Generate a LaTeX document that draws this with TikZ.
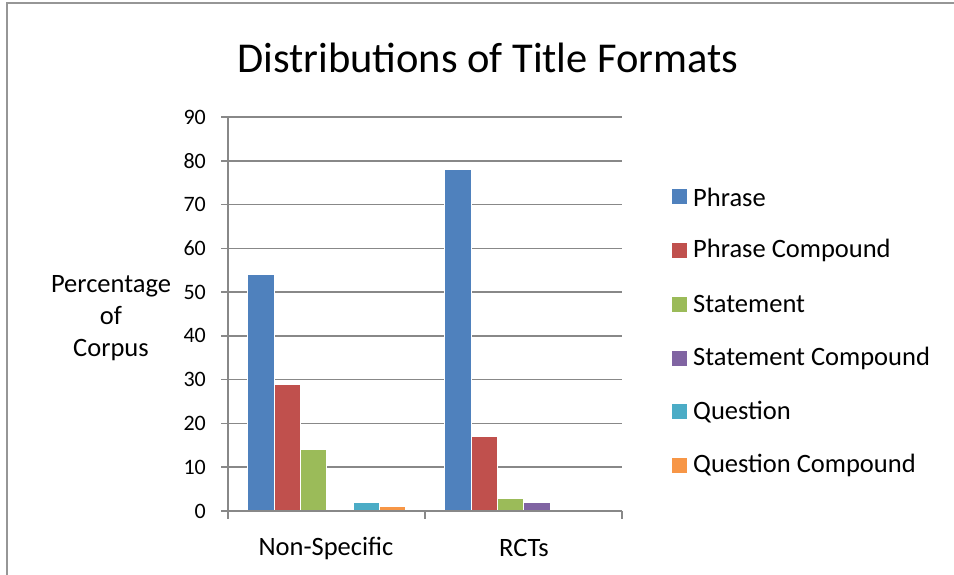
\documentclass[tikz,border=0pt]{standalone}
\usepackage{fontspec}
\setmainfont{Carlito}
\usepackage{tikz}
\definecolor{cPhrase}{RGB}{79,129,189}
\definecolor{cPhraseC}{RGB}{192,80,77}
\definecolor{cStat}{RGB}{155,187,89}
\definecolor{cStatC}{RGB}{128,100,162}
\definecolor{cQuest}{RGB}{75,172,198}
\definecolor{cQuestC}{RGB}{247,150,70}
\definecolor{gridgray}{RGB}{136,136,136}
\definecolor{framegray}{RGB}{150,150,150}

\begin{document}
\begin{tikzpicture}[x=1pt, y=-1pt,
    grid/.style = {draw=gridgray, line width=1.6pt},
    bar/.style  = {draw=white, line width=0.5pt},
    lab/.style  = {inner sep=0pt, font=\fontsize{26.5}{32}\selectfont},
    ticklab/.style = {inner sep=0pt, anchor=east, font=\fontsize{22}{26}\selectfont}]

    \useasboundingbox (0,0) rectangle (954,575);
    \draw[framegray, line width=2pt] (7,575) -- (7,3) -- (954,3); % outer frame

    \node[inner sep=0pt, font=\fontsize{42.5}{50}\selectfont] (title) at (488,58) {Distributions of Title Formats};

    %%%%%%%%%%%%%%%%%%% grid and ticks
    \def\ys{4.378}
    \foreach \t in {10,20,...,90} {
        \draw[grid] (221,{511-\t*\ys}) -- (622,{511-\t*\ys});
    }
    \foreach \t in {0,10,...,90} {
        \node[ticklab] (tick\t) at (206,{511-\t*\ys}) {\t};
    }

    %%%%%%%%%%%%%%%%%%% bars
    \foreach \v/\c [count=\i from 0] in {54/cPhrase, 29/cPhraseC, 14/cStat, 0.4/cStatC, 2/cQuest, 1/cQuestC} {
        \filldraw[bar, fill=\c] ({247.7+\i*26.3},511) rectangle ++(26.3,{-\v*\ys});
    }
    \foreach \v/\c [count=\i from 0] in {78/cPhrase, 17/cPhraseC, 3/cStat, 2/cStatC} {
        \filldraw[bar, fill=\c] ({444.7+\i*26.3},511) rectangle ++(26.3,{-\v*\ys});
    }

    %%%%%%%%%%%%%%%%%%% axes
    \draw[grid] (221,511) -- (622,511);
    \draw[grid] (228,118) -- (228,519);
    \draw[grid] (425,511) -- (425,519);
    \draw[grid] (622,511) -- (622,519);

    \node[lab] (ns)  at (326,548) {Non-Specific};
    \node[lab] (rct) at (524,548) {RCTs};
    \node[lab, align=center] (ylab) at (111,318) {Percentage\\of\\Corpus};

    %%%%%%%%%%%%%%%%%%% legend
    \foreach \n/\c [count=\i from 0] in {Phrase/cPhrase, Phrase Compound/cPhraseC, Statement/cStat,
            Statement Compound/cStatC, Question/cQuest, Question Compound/cQuestC} {
        \fill[\c] (672,{189.5+\i*53.7}) rectangle ++(15,15);
        \node[lab, anchor=west] (leg\i) at (693,{197+\i*53.7}) {\n};
    }
\end{tikzpicture}
\end{document}
